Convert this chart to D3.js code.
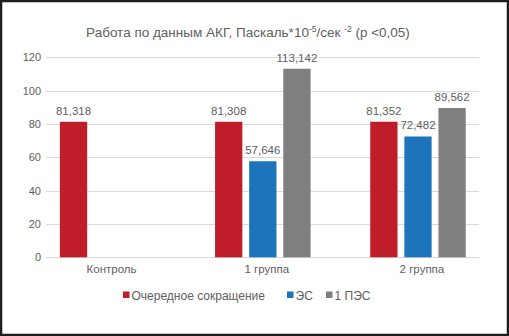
<!DOCTYPE html>
<html>
<head>
<meta charset="utf-8">
<script src="https://d3js.org/d3.v7.min.js"></script>
<style>
  body { margin: 0; background: #fff; }
  text { font-family: "Liberation Sans", Arial, sans-serif; fill: #606060; }
</style>
</head>
<body>
<svg id="chart" width="509" height="336"></svg>
<script>
// categories and series
var categories = ["Контроль", "1 группа", "2 группа"];
var seriesNames = ["Очередное сокращение", "ЭС", "1 ПЭС"];
var seriesColors = ["#c01d2b", "#1c74bb", "#7f7f7f"];

// values per series (null = no bar)
var ocherednoe = [81.318, 81.308, 81.352];
var es = [null, 57.646, 72.482];
var pes = [null, 113.142, 89.562];

var yTicks = [0, 20, 40, 60, 80, 100, 120];

var svg = d3.select("#chart");

// outer frame
svg.append("rect")
  .attr("x", 1).attr("y", 1)
  .attr("width", 507).attr("height", 334)
  .attr("fill", "#fff")
  .attr("stroke", "#1e1e1e")
  .attr("stroke-width", 2.5);

// title with superscripts
var title = svg.append("text")
  .attr("x", 248).attr("y", 37)
  .attr("text-anchor", "middle")
  .style("font-size", "13.5px");
title.append("tspan").text("Работа по данным АКГ, Паскаль*10");
title.append("tspan").attr("dy", -5).style("font-size", "8.5px").text("-5");
title.append("tspan").attr("dy", 5).text("/сек ");
title.append("tspan").attr("dy", -5).style("font-size", "8.5px").text("-2");
title.append("tspan").attr("dy", 5).text(" (р <0,05)");

// scales
var y = d3.scaleLinear().domain([0, 120]).range([257.3, 57.3]);
var x0 = d3.scaleBand().domain(categories).range([30, 495.5]);
var x1 = d3.scaleBand().domain(seriesNames)
  .range([29.9, 125.4]).paddingInner(0.2);

// grid lines + y labels
var yAxis = d3.axisLeft(y).tickValues(yTicks).tickSize(0).tickPadding(5)
  .tickFormat(d3.format("d"));
var gy = svg.append("g").attr("transform", "translate(46,0)").call(yAxis);
gy.select(".domain").remove();
gy.selectAll("text").style("font-size", "11px").attr("fill", "#606060");

svg.append("g").selectAll("line")
  .data(yTicks)
  .enter().append("line")
  .attr("x1", 46).attr("x2", 479)
  .attr("y1", function(d) { return Math.round(y(d)) + 0.5; })
  .attr("y2", function(d) { return Math.round(y(d)) + 0.5; })
  .attr("stroke", "#d9d9d9")
  .attr("stroke-width", 1);

// bar data
var rows = categories.map(function(c, i) {
  return [
    { cat: c, s: seriesNames[0], v: ocherednoe[i], col: seriesColors[0] },
    { cat: c, s: seriesNames[1], v: es[i], col: seriesColors[1] },
    { cat: c, s: seriesNames[2], v: pes[i], col: seriesColors[2] }
  ].filter(function(d) { return d.v !== null; });
});
var bars = [].concat.apply([], rows);

var fmt = function(v) { return d3.format(".3f")(v).replace(".", ","); };

svg.append("g").selectAll("rect")
  .data(bars)
  .enter().append("rect")
  .attr("x", function(d) { return x0(d.cat) + x1(d.s); })
  .attr("y", function(d) { return y(d.v); })
  .attr("width", x1.bandwidth())
  .attr("height", function(d) { return y(0) - y(d.v); })
  .attr("fill", function(d) { return d.col; });

// value labels
svg.append("g").selectAll("text")
  .data(bars)
  .enter().append("text")
  .attr("x", function(d) { return x0(d.cat) + x1(d.s) + x1.bandwidth() / 2; })
  .attr("y", function(d) { return y(d.v) - 7; })
  .attr("text-anchor", "middle")
  .style("font-size", "11.5px")
  .text(function(d) { return fmt(d.v); });

// category labels
var xAxis = d3.axisBottom(x0).tickSize(0).tickPadding(8);
var gx = svg.append("g").attr("transform", "translate(4," + y(0) + ")").call(xAxis);
gx.select(".domain").remove();
gx.selectAll("text").style("font-size", "11.5px").attr("fill", "#606060");

// legend
var legendX = [123, 287, 326];
var legend = svg.append("g").selectAll("g")
  .data(seriesNames)
  .enter().append("g")
  .attr("transform", function(d, i) { return "translate(" + legendX[i] + ",295)"; });
legend.append("rect")
  .attr("x", 0).attr("y", -3.5)
  .attr("width", 6.5).attr("height", 6.5)
  .attr("fill", function(d, i) { return seriesColors[i]; });
legend.append("text")
  .attr("x", 8.5).attr("y", 4.5)
  .style("font-size", "12px")
  .text(function(d) { return d; });
</script>
</body>
</html>
